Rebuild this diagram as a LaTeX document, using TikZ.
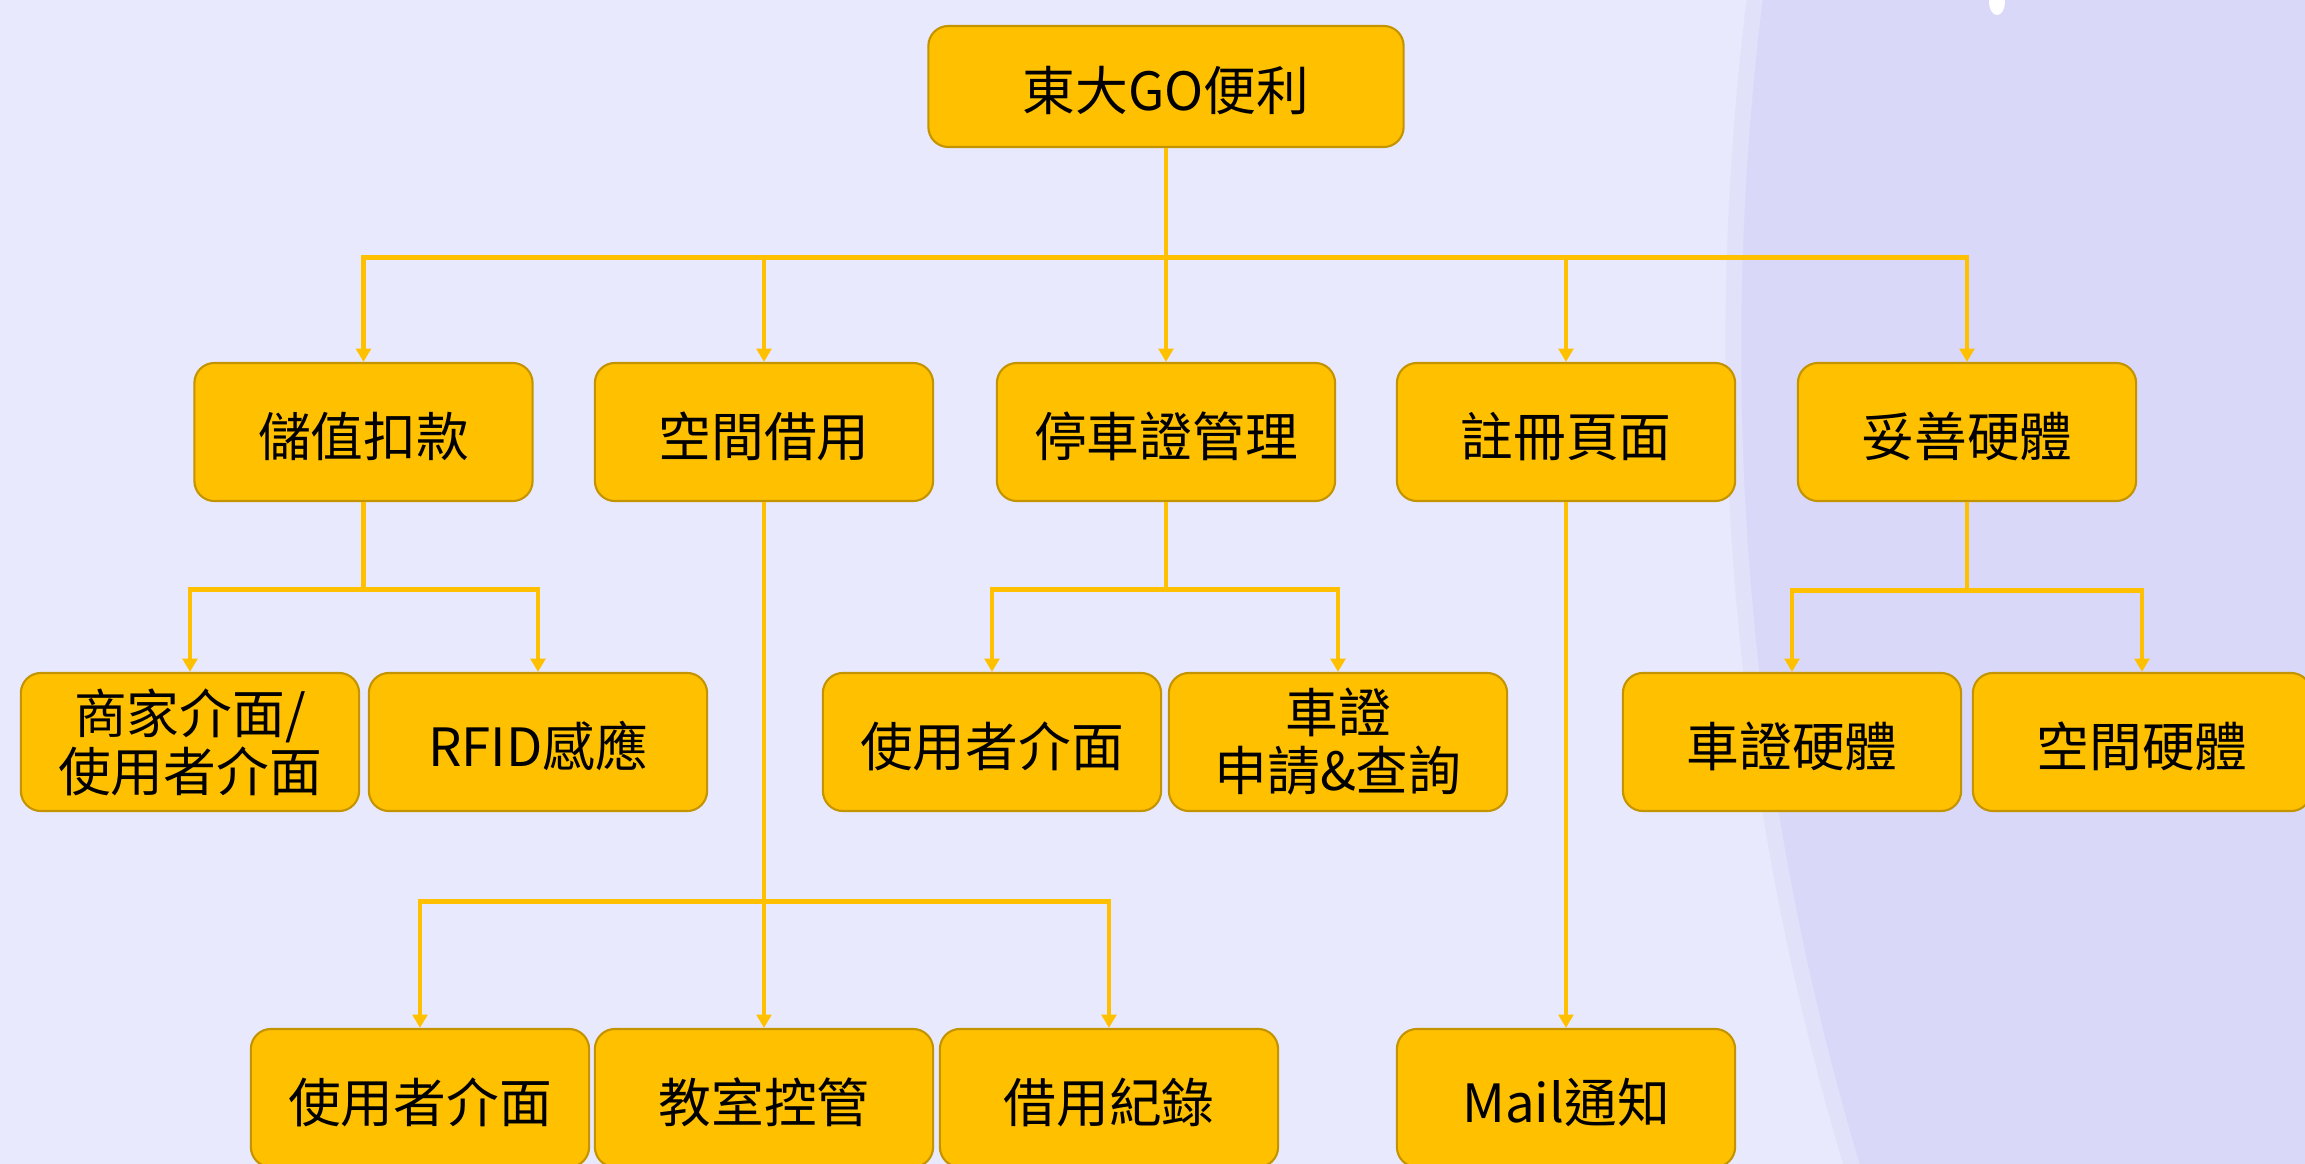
\documentclass[tikz,border=0pt]{standalone}
\usepackage{fontspec}
\setmainfont{Noto Sans CJK TC}
\usetikzlibrary{arrows.meta}
\definecolor{bgmain}{RGB}{232,233,252}
\definecolor{bgcircle}{RGB}{217,216,248}
\definecolor{bgedge}{RGB}{225,225,250}
\definecolor{gold}{RGB}{255,192,0}
\definecolor{goldedge}{RGB}{196,148,0}
\tikzset{
  box/.style={rectangle, rounded corners=0.2cm, fill=gold, draw=goldedge, line width=0.6pt,
    minimum width=3.38cm, minimum height=1.38cm, align=center, inner sep=2pt,
    font=\fontsize{15}{16.5}\selectfont, text=black,
    execute at begin node={\rule{0pt}{15pt}}},
  rootbox/.style={box, minimum width=4.75cm, minimum height=1.21cm},
  conn/.style={draw=gold, line width=1.4pt, -{Triangle[width=4.2pt,length=3.8pt]}},
}
\begin{document}
\begin{tikzpicture}[x=0.01cm,y=-0.01cm]
\useasboundingbox (0,0) rectangle (2305,1164);
\clip (0,0) rectangle (2305,1164);
% background
\fill[bgmain] (0,0) rectangle (2305,1164);
\fill[bgedge] (4582,350) circle[radius=28.55cm];
\fill[bgcircle] (4582,350) circle[radius=28.39cm];
\fill[white] (1997,2) ellipse[x radius=0.08cm, y radius=0.13cm];

% nodes
\node[rootbox] (root) at (1166,86.5) {東大GO便利};

\node[box] (a) at (363.5,432) {儲值扣款};
\node[box] (b) at (764,432) {空間借用};
\node[box] (c) at (1166,432) {停車證管理};
\node[box] (d) at (1566,432) {註冊頁面};
\node[box] (e) at (1967,432) {妥善硬體};

\node[box] (a1) at (190,742) {商家介面/\\使用者介面};
\node[box] (a2) at (538,742) {RFID感應};
\node[box] (c1) at (992,742) {使用者介面};
\node[box] (c2) at (1338,742) {車證\\申請\&查詢};
\node[box] (e1) at (1792,742) {車證硬體};
\node[box] (e2) at (2142,742) {空間硬體};

\node[box] (b1) at (420,1098) {使用者介面};
\node[box] (b2) at (764,1098) {教室控管};
\node[box] (b3) at (1109,1098) {借用紀錄};
\node[box] (d1) at (1566,1098) {Mail通知};

% connectors
\foreach \t in {a,b,c,d,e}
  \draw[conn] (root.south) -- ++(0,109) -| (\t.north);
\foreach \t in {a1,a2}
  \draw[conn] (a.south) -- ++(0,87) -| (\t.north);
\foreach \t in {c1,c2}
  \draw[conn] (c.south) -- ++(0,87) -| (\t.north);
\foreach \t in {e1,e2}
  \draw[conn] (e.south) -- ++(0,88) -| (\t.north);
\foreach \t in {b1,b2,b3}
  \draw[conn] (b.south) -- ++(0,399) -| (\t.north);
\draw[conn] (d.south) -- (d1.north);
\end{tikzpicture}
\end{document}
